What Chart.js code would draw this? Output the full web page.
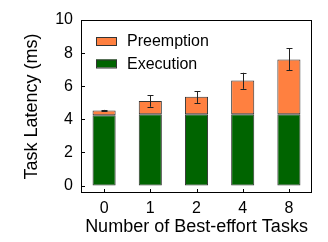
<!DOCTYPE html>
<html><head><meta charset="utf-8">
<script src="https://cdn.jsdelivr.net/npm/chart.js@4.4.1/dist/chart.umd.min.js"></script>
<style>html,body{margin:0;padding:0;background:#fff}#wrap{width:328px;height:242px}</style>
</head><body><div id="wrap"><canvas id="c" width="328" height="242"></canvas></div>
<script>
const categories = ['0', '1', '2', '4', '8'];
const execution = [4.25, 4.3, 4.3, 4.3, 4.3];
const preemption = [0.28, 0.81, 1.06, 2.05, 3.32];
const errLow = [4.49, 4.76, 4.99, 5.84, 6.95];
const errHigh = [4.57, 5.45, 5.70, 6.81, 8.30];
const yTicks = [0, 2, 4, 6, 8, 10];

const FONT = "'Liberation Sans', Arial, Helvetica, sans-serif";
const ORANGE = '#FF8040';
const GREEN = '#006400';

const framePlugin = {
  id: 'frame',
  afterDatasetsDraw(chart) {
    const {ctx, chartArea: a, scales: {x, y}} = chart;
    ctx.save();
    // error bars
    ctx.strokeStyle = '#222';
    ctx.lineWidth = 1;
    for (let i = 0; i < categories.length; i++) {
      const px = Math.round(x.getPixelForValue(i)) + 0.5;
      const lo = y.getPixelForValue(errLow[i]);
      const hi = y.getPixelForValue(errHigh[i]);
      ctx.beginPath();
      ctx.moveTo(px, lo); ctx.lineTo(px, hi);
      ctx.moveTo(px - 3, Math.round(lo) + 0.5); ctx.lineTo(px + 3, Math.round(lo) + 0.5);
      ctx.moveTo(px - 3, Math.round(hi) + 0.5); ctx.lineTo(px + 3, Math.round(hi) + 0.5);
      ctx.stroke();
    }
    // frame
    ctx.strokeStyle = '#000';
    ctx.strokeRect(a.left + 0.5, a.top + 0.5, a.right - a.left - 1, a.bottom - a.top - 1);
    // inward ticks
    ctx.beginPath();
    yTicks.forEach(v => {
      const py = Math.round(y.getPixelForValue(v)) + 0.5;
      ctx.moveTo(a.left, py); ctx.lineTo(a.left + 4, py);
    });
    for (let i = 0; i < categories.length; i++) {
      const px = Math.round(x.getPixelForValue(i)) + 0.5;
      ctx.moveTo(px, a.bottom); ctx.lineTo(px, a.bottom - 4);
    }
    ctx.stroke();
    // legend
    const items = [
      {label: chart.data.datasets[1].label, color: ORANGE, y: 41},
      {label: chart.data.datasets[0].label, color: GREEN, y: 63.5}
    ];
    ctx.font = '16px ' + FONT;
    ctx.textBaseline = 'middle';
    ctx.textAlign = 'left';
    items.forEach(it => {
      ctx.fillStyle = it.color;
      ctx.fillRect(96, it.y - 4, 21, 8);
      ctx.strokeStyle = '#333';
      ctx.strokeRect(96.5, it.y - 4 + 0.5, 20, 8);
      ctx.fillStyle = '#000';
      ctx.fillText(it.label, 127, it.y + 1);
    });
    ctx.restore();
  }
};

new Chart(document.getElementById('c'), {
  type: 'bar',
  data: {
    labels: categories,
    datasets: [
      {label: 'Execution', data: execution, backgroundColor: GREEN, borderColor: '#333', borderWidth: 1, borderSkipped: false},
      {label: 'Preemption', data: preemption, backgroundColor: ORANGE, borderColor: '#333', borderWidth: 1, borderSkipped: false}
    ]
  },
  options: {
    responsive: false,
    animation: false,
    devicePixelRatio: 1,
    layout: {padding: {left: 0, right: 16, top: 20, bottom: 0}},
    datasets: {bar: {barPercentage: 0.5, categoryPercentage: 1.0}},
    plugins: {legend: {display: false}, tooltip: {enabled: false}},
    scales: {
      x: {
        stacked: true,
        grid: {display: false, drawTicks: false},
        border: {display: false},
        ticks: {color: '#000', font: {family: FONT, size: 16}, padding: 6},
        title: {display: true, text: 'Number of Best-effort Tasks', color: '#000', font: {family: FONT, size: 18}, padding: {top: 0, bottom: 4}},
        afterFit(s) { s.height = 49; }
      },
      y: {
        stacked: true,
        min: -0.45, max: 10,
        afterBuildTicks(s) { s.ticks = yTicks.map(v => ({value: v})); },
        grid: {display: false, drawTicks: false},
        border: {display: false},
        ticks: {color: '#000', font: {family: FONT, size: 16}, padding: 8},
        title: {display: true, text: 'Task Latency (ms)', color: '#000', font: {family: FONT, size: 18}, padding: {top: 21, bottom: 0}},
        afterFit(s) { s.width = 81; }
      }
    }
  },
  plugins: [framePlugin]
});
</script></body></html>
